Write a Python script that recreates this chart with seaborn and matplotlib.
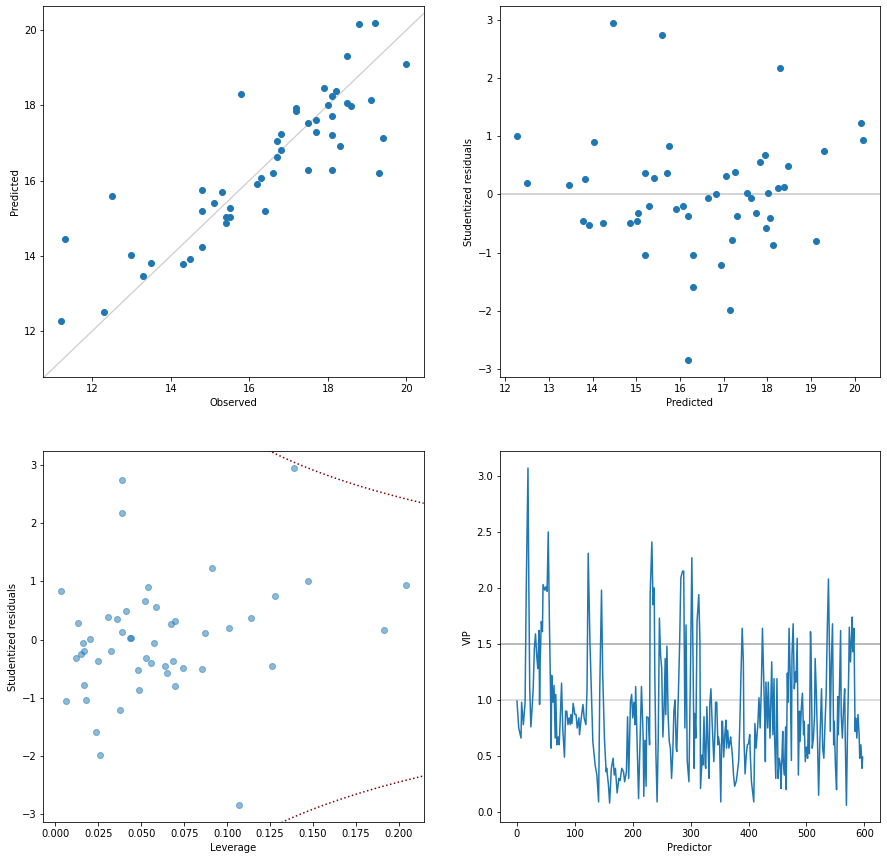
import numpy as np
import pandas as pd
import seaborn as sns
import matplotlib
matplotlib.use("Agg")
import matplotlib.pyplot as plt

# observed / predicted for the 50 samples
observed = [11.2, 11.3, 12.3, 12.5, 13.0, 13.3, 13.5, 14.3, 14.5, 14.8,
            14.8, 14.8, 15.1, 15.3, 15.4, 15.4, 15.5, 15.5, 15.8, 16.2,
            16.3, 16.4, 16.6, 16.7, 16.7, 16.8, 16.8, 17.2, 17.2, 17.5,
            17.5, 17.7, 17.7, 17.9, 18.0, 18.1, 18.1, 18.1, 18.1, 18.2,
            18.3, 18.5, 18.5, 18.6, 18.8, 19.1, 19.2, 19.3, 19.4, 20.0]
predicted = [12.27, 14.46, 12.51, 15.60, 14.03, 13.47, 13.82, 13.79, 13.92, 14.24,
             15.76, 15.20, 15.41, 15.71, 15.04, 14.86, 15.28, 15.02, 18.29, 15.92,
             16.08, 15.20, 16.19, 16.64, 17.06, 16.82, 17.25, 17.94, 17.84, 17.54,
             16.29, 17.62, 17.30, 18.47, 18.02, 18.24, 17.73, 17.20, 16.29, 18.37,
             16.93, 19.30, 18.05, 17.97, 20.15, 18.13, 20.18, 16.19, 17.14, 19.11]
residuals = [1.01, 2.95, 0.20, 2.75, 0.91, 0.17, 0.27, -0.45, -0.52, -0.49,
             0.84, 0.36, 0.29, 0.37, -0.32, -0.50, -0.20, -0.45, 2.18, -0.25,
             -0.20, -1.05, -0.37, -0.06, 0.32, 0.01, 0.39, 0.67, 0.56, 0.03,
             -1.04, -0.06, -0.37, 0.49, 0.03, 0.11, -0.32, -0.78, -1.59, 0.13,
             -1.21, 0.75, -0.40, -0.57, 1.23, -0.87, 0.94, -2.85, -1.99, -0.80]
leverage = [0.1473, 0.1386, 0.1008, 0.0386, 0.0537, 0.1915, 0.0671, 0.0636, 0.0479, 0.0740,
            0.0031, 0.0357, 0.0130, 0.1141, 0.0122, 0.0851, 0.0165, 0.1258, 0.0386, 0.0147,
            0.0322, 0.0060, 0.0246, 0.0159, 0.0694, 0.0200, 0.0304, 0.0519, 0.0583, 0.0432,
            0.0176, 0.0572, 0.0682, 0.0409, 0.0438, 0.0868, 0.0525, 0.0165, 0.0234, 0.0386,
            0.0374, 0.1281, 0.0554, 0.0647, 0.0909, 0.0484, 0.2043, 0.1066, 0.0258, 0.0694]

# VIP scores (predictor index, score)
vip_pred = [0, 3, 7, 8, 11, 14, 16, 19, 20, 22, 24, 26, 28, 30, 32, 34, 36, 38, 39, 40,
            42, 44, 45, 48, 50, 52, 54, 56, 58, 59, 60, 62, 64, 66, 67, 69, 71, 73, 75, 77,
            79, 82, 84, 86, 88, 90, 92, 93, 95, 97, 100, 102, 104, 107, 108, 111, 114, 116, 119, 121,
            123, 126, 129, 131, 135, 138, 141, 143, 146, 148, 151, 154, 155, 158, 160, 163, 166, 168, 170, 173,
            176, 178, 181, 184, 186, 189, 191, 193, 196, 198, 200, 202, 204, 205, 208, 210, 212, 214, 215, 218,
            219, 221, 223, 224, 227, 229, 230, 233, 235, 237, 238, 240, 242, 244, 246, 248, 250, 252, 254, 256,
            257, 259, 261, 263, 265, 267, 269, 271, 273, 275, 276, 279, 281, 283, 286, 288, 290, 292, 294, 297,
            300, 302, 304, 306, 307, 309, 311, 314, 316, 317, 320, 321, 323, 325, 326, 328, 330, 332, 333, 335,
            337, 340, 342, 343, 345, 347, 348, 350, 352, 354, 355, 357, 359, 361, 362, 364, 366, 368, 369, 372,
            374, 376, 379, 381, 383, 385, 387, 389, 391, 392, 394, 396, 398, 400, 402, 403, 405, 407, 409, 411,
            413, 416, 418, 420, 422, 424, 426, 428, 429, 430, 433, 434, 437, 438, 440, 442, 444, 445, 447, 449,
            451, 453, 455, 456, 459, 460, 462, 464, 465, 467, 468, 470, 472, 474, 475, 477, 479, 481, 482, 484,
            486, 488, 489, 491, 493, 495, 496, 498, 500, 502, 503, 505, 507, 508, 510, 512, 514, 515, 517, 519,
            521, 523, 526, 528, 530, 532, 534, 536, 538, 540, 541, 543, 545, 547, 548, 550, 552, 554, 555, 557,
            559, 560, 562, 564, 566, 567, 569, 571, 573, 574, 576, 578, 579, 580, 582, 584, 585, 587, 589, 591,
            592, 594, 596, 597]
vip_score = [0.99, 0.75, 0.66, 0.98, 0.78, 0.98, 2.00, 3.07, 2.29, 1.10, 0.76, 0.92, 1.10, 1.46, 1.59, 1.40, 1.28, 1.62, 0.96, 1.33,
             1.70, 1.61, 2.03, 1.98, 2.01, 1.97, 2.50, 1.70, 1.05, 0.57, 1.22, 0.98, 1.13, 0.66, 1.05, 0.60, 0.67, 0.60, 0.87, 1.15,
             0.75, 0.49, 0.90, 0.90, 0.78, 0.84, 0.78, 0.87, 0.79, 0.97, 0.87, 0.87, 0.75, 0.84, 0.69, 0.84, 0.96, 0.84, 0.78, 1.10,
             2.31, 1.52, 0.98, 0.63, 0.42, 0.33, 0.09, 1.10, 1.98, 1.25, 0.66, 0.36, 0.39, 0.24, 0.08, 0.39, 0.48, 0.33, 0.39, 0.17,
             0.30, 0.28, 0.39, 0.36, 0.27, 0.36, 0.85, 0.30, 0.98, 1.05, 0.84, 0.98, 0.78, 1.12, 0.51, 0.12, 0.51, 0.90, 1.12, 0.66,
             0.14, 0.64, 0.23, 0.85, 0.84, 0.60, 1.94, 2.41, 1.85, 2.00, 1.25, 0.51, 0.09, 0.66, 1.73, 1.40, 1.28, 0.67, 0.92, 1.37,
             0.87, 1.48, 0.87, 0.63, 0.57, 0.30, 0.51, 0.90, 1.00, 0.57, 0.54, 1.10, 1.52, 2.09, 2.15, 2.15, 0.75, 1.67, 0.46, 0.27,
             1.40, 2.27, 1.40, 0.39, 0.88, 0.66, 1.70, 1.94, 1.52, 0.21, 0.51, 0.42, 0.85, 0.42, 0.39, 0.94, 0.60, 0.30, 0.96, 1.10,
             0.81, 0.45, 0.72, 0.98, 0.98, 0.60, 0.67, 0.60, 0.09, 0.81, 0.81, 0.49, 0.69, 0.82, 0.57, 0.73, 0.57, 0.63, 0.67, 0.51,
             0.33, 0.23, 0.28, 0.37, 0.46, 0.81, 1.25, 1.64, 1.34, 0.66, 0.34, 0.51, 0.60, 0.61, 0.69, 0.51, 0.27, 0.18, 0.09, 0.79,
             0.57, 0.78, 1.02, 0.75, 1.10, 1.64, 1.22, 0.81, 0.45, 1.16, 0.75, 1.16, 0.66, 0.90, 1.34, 0.69, 1.19, 0.66, 0.30, 1.19,
             0.30, 0.48, 0.42, 0.21, 0.72, 0.45, 0.33, 0.76, 0.20, 1.24, 0.98, 1.64, 1.19, 0.46, 1.40, 1.68, 1.10, 1.25, 1.16, 1.55,
             0.33, 0.90, 0.63, 0.92, 1.06, 0.69, 0.81, 0.45, 0.58, 0.48, 0.78, 0.52, 1.61, 1.40, 0.57, 0.66, 0.87, 1.37, 1.07, 0.66,
             0.15, 0.60, 1.10, 0.57, 0.48, 0.78, 1.05, 1.64, 2.08, 1.34, 0.72, 1.34, 1.68, 0.60, 0.81, 0.42, 0.20, 1.03, 0.69, 1.10,
             1.62, 0.87, 0.66, 0.92, 1.10, 0.66, 0.06, 0.75, 1.25, 1.65, 1.34, 1.58, 1.74, 1.43, 1.64, 0.72, 0.84, 0.66, 0.87, 0.69,
             0.48, 0.60, 0.39, 0.49]

cook_d = 0.5
n_comp = 3

df = pd.DataFrame({"observed": observed, "predicted": predicted,
                   "residual": residuals, "leverage": leverage})
vip = pd.DataFrame({"predictor": vip_pred, "vip": vip_score})

fig, axes = plt.subplots(2, 2, figsize=(887 / 72, 860 / 72), dpi=72)
fig.subplots_adjust(left=0.049, right=0.992, bottom=0.044, top=0.993,
                    wspace=0.2, hspace=0.2)

# observed vs predicted
ax = axes[0, 0]
sns.scatterplot(data=df, x="observed", y="predicted", ax=ax,
                color="C0", edgecolor="face", linewidth=1, s=36)
ax.set_xlim(10.76, 20.44)
ax.set_ylim(10.78, 20.64)
ax.axline((12, 12), (20, 20), color="#cccccc", lw=1.2, zorder=0)
ax.set_xlabel("Observed")
ax.set_ylabel("Predicted")

# residuals vs predicted
ax = axes[0, 1]
sns.scatterplot(data=df, x="predicted", y="residual", ax=ax,
                color="C0", edgecolor="face", linewidth=1, s=36)
ax.axhline(0, color="lightgray", lw=2, zorder=0)
ax.set_xlabel("Predicted")
ax.set_ylabel("Studentized residuals")

# leverage plot with Cook's distance contours
ax = axes[1, 0]
sns.scatterplot(data=df, x="leverage", y="residual", ax=ax,
                color="C0", alpha=0.5, edgecolor="face", linewidth=1, s=36)
xl, yl = ax.get_xlim(), ax.get_ylim()
h = np.linspace(0.05, xl[1], 200)
bound = np.sqrt(cook_d * n_comp * (1 - h) / h)
ax.plot(h, bound, ls=":", color="#800000", lw=1.5)
ax.plot(h, -bound, ls=":", color="#800000", lw=1.5)
ax.set_xlim(xl)
ax.set_ylim(yl)
ax.set_xlabel("Leverage")
ax.set_ylabel("Studentized residuals")

# VIP scores
ax = axes[1, 1]
sns.lineplot(data=vip, x="predictor", y="vip", ax=ax, color="C0", lw=1.5)
ax.axhline(1.5, color="grey", alpha=0.7, lw=1.5, zorder=0)
ax.axhline(1.0, color="grey", alpha=0.35, lw=1.5, zorder=0)
ax.set_xlabel("Predictor")
ax.set_ylabel("VIP")

fig.savefig("out.png", dpi=72)
